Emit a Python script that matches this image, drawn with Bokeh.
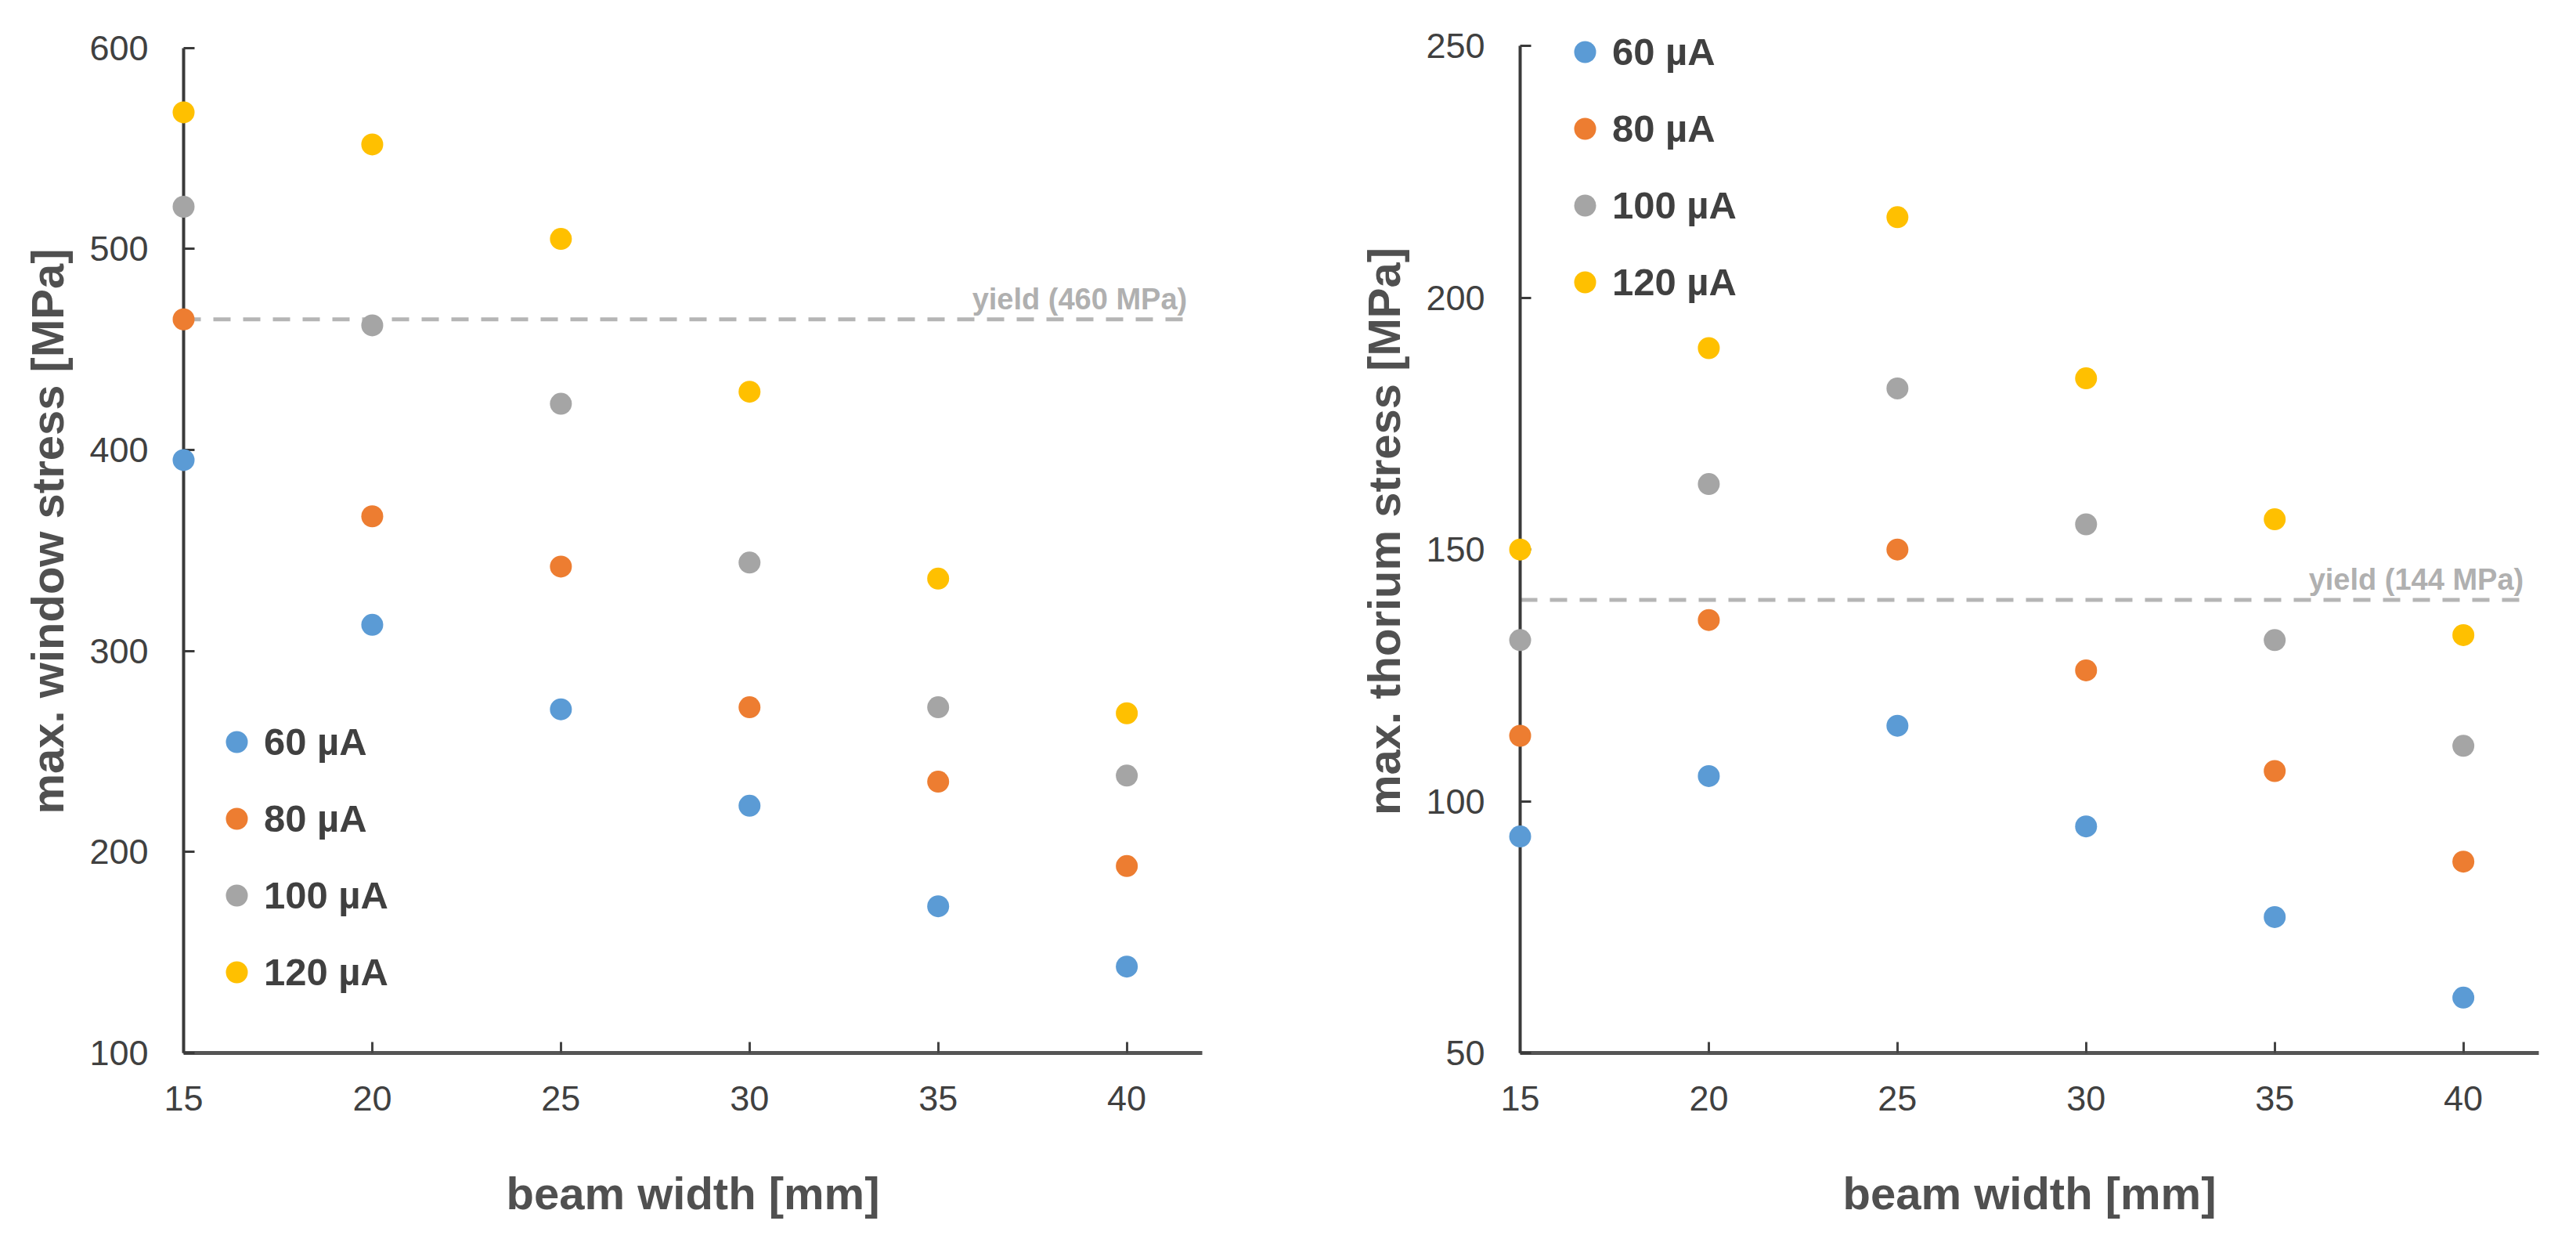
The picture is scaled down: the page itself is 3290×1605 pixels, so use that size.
from bokeh.plotting import figure
from bokeh.models import Range1d, Legend, LegendItem, FixedTicker
from bokeh.layouts import row
from bokeh.embed import file_html
from bokeh.resources import INLINE
from bokeh.core.properties import value

# ---------------- data ----------------
beam_width = [15, 20, 25, 30, 35, 40]
series_labels = ["60 µA", "80 µA", "100 µA", "120 µA"]
series_colors = ["#5B9BD5", "#ED7D31", "#A5A5A5", "#FFC000"]

window_60 = [395, 313, 271, 223, 173, 143]
window_80 = [465, 367, 342, 272, 235, 193]
window_100 = [521, 462, 423, 344, 272, 238]
window_120 = [568, 552, 505, 429, 336, 269]

thorium_60 = [93, 105, 115, 95, 77, 61]
thorium_80 = [113, 136, 150, 126, 106, 88]
thorium_100 = [132, 163, 182, 155, 132, 111]
thorium_120 = [150, 190, 216, 184, 156, 133]

window_yield_pos = 465
window_yield_label = "yield (460 MPa)"
thorium_yield_pos = 140
thorium_yield_label = "yield (144 MPa)"
yield_x = [15, 41.6]

x_ticks = [15, 20, 25, 30, 35, 40]
x_axis_span = (15, 42)
window_ticks = [100, 200, 300, 400, 500, 600]
thorium_ticks = [50, 100, 150, 200, 250]

FONT = "Liberation Sans"
TICK_COL = "#404040"
TITLE_COL = "#505050"


def make_fig(width, height, yrange, yticks, ylabel, series, ypos, ylab,
             bl, br, bt, bb, legend_loc):
    p = figure(width=width, height=height, output_backend="svg", toolbar_location=None,
               x_range=Range1d(*x_axis_span), y_range=Range1d(*yrange),
               min_border_left=bl, min_border_right=br, min_border_top=bt, min_border_bottom=bb)
    p.outline_line_color = None
    p.grid.visible = False
    p.background_fill_color = "white"
    p.border_fill_color = "white"

    # axes
    p.xaxis.ticker = FixedTicker(ticks=x_ticks)
    p.yaxis.ticker = FixedTicker(ticks=yticks)
    p.yaxis.bounds = (yticks[0], yticks[-1])
    for ax in (p.xaxis, p.yaxis):
        ax.major_tick_in = 14
        ax.major_tick_out = 0
        ax.minor_tick_line_color = None
        ax.major_tick_line_width = 3
        ax.major_label_text_font = FONT
        ax.major_label_text_font_size = "45px"
        ax.major_label_text_color = TICK_COL
        ax.axis_label_text_font = FONT
        ax.axis_label_text_font_size = "58px"
        ax.axis_label_text_font_style = "bold"
        ax.axis_label_text_color = TITLE_COL
    p.yaxis.axis_line_width = 4
    p.yaxis.axis_line_color = "#3a3a3a"
    p.yaxis.major_tick_line_color = "#3a3a3a"
    p.xaxis.axis_line_width = 5
    p.xaxis.axis_line_color = "#555555"
    p.xaxis.major_tick_line_color = "#444444"
    p.yaxis.major_label_standoff = 45
    p.xaxis.major_label_standoff = 42
    p.yaxis.axis_label_standoff = 18
    p.xaxis.axis_label_standoff = 70
    p.xaxis.axis_label = "beam width [mm]"
    p.yaxis.axis_label = ylabel

    # yield line
    p.line(x=yield_x, y=[ypos, ypos], line_color="#b5b5b5", line_width=5, line_dash="22 16")
    p.text(x=[yield_x[1]], y=[ypos], text=[ylab], text_align="right", text_baseline="alphabetic",
           y_offset=-26, text_font=value(FONT), text_font_style="bold",
           text_font_size="38px", text_color="#b0b0b0")

    items = []
    for vals, lab, col in zip(series, series_labels, series_colors):
        r = p.scatter(x=beam_width, y=vals, size=28, fill_color=col, line_color=None,
                      level="overlay")
        items.append(LegendItem(label=lab, renderers=[r]))

    leg = Legend(items=items, location=legend_loc)
    leg.glyph_width = 70
    leg.glyph_height = 70
    leg.label_height = 70
    leg.spacing = 28
    leg.label_standoff = -9
    leg.padding = 0
    leg.margin = 0
    leg.border_line_color = None
    leg.background_fill_alpha = 0
    leg.label_text_font = FONT
    leg.label_text_font_size = "49px"
    leg.label_text_font_style = "bold"
    leg.label_text_color = TICK_COL
    p.add_layout(leg)
    return p


p1 = make_fig(1637, 1589, (100, 619), window_ticks, "max. window stress [MPa]",
              [window_60, window_80, window_100, window_120],
              window_yield_pos, window_yield_label, 234, 102, 12, 245, (33, 68))
p2 = make_fig(1637, 1589, (50, 257.2), thorium_ticks, "max. thorium stress [MPa]",
              [thorium_60, thorium_80, thorium_100, thorium_120],
              thorium_yield_pos, thorium_yield_label, 304, 32, 12, 245, (48, 949))

layout = row(p1, p2)
open("out.html", "w").write(file_html(layout, INLINE))
